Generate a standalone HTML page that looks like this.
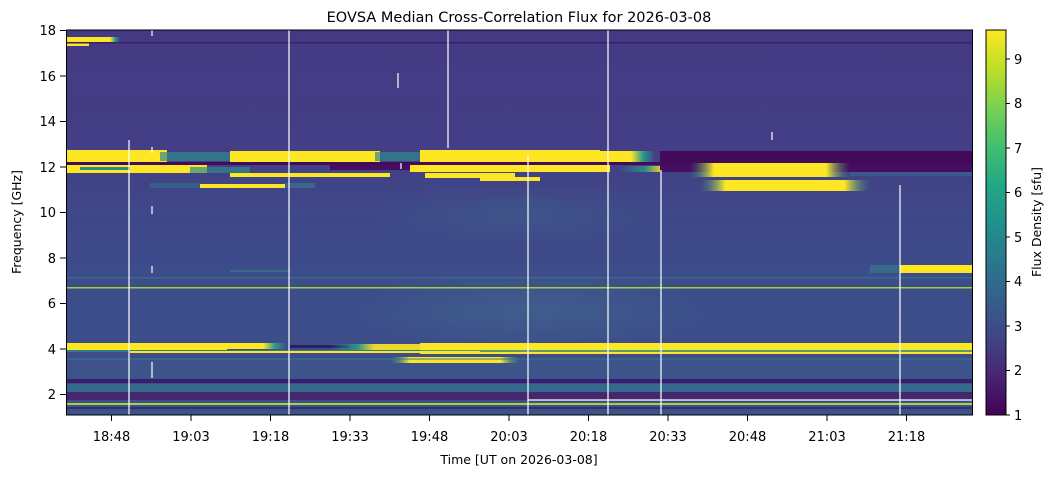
<!DOCTYPE html>
<html><head><meta charset="utf-8"><style>
body{margin:0;background:#fff;}
svg{display:block;font-family:"DejaVu Sans","Liberation Sans",sans-serif;}
</style></head><body>
<svg width="1053" height="477" viewBox="0 0 1053 477">
<defs>
<linearGradient id="cb" x1="0" y1="1" x2="0" y2="0">
<stop offset="0" stop-color="#440154"/><stop offset="0.1" stop-color="#482475"/>
<stop offset="0.2" stop-color="#414487"/><stop offset="0.3" stop-color="#355f8d"/>
<stop offset="0.4" stop-color="#2a788e"/><stop offset="0.5" stop-color="#21918c"/>
<stop offset="0.6" stop-color="#22a884"/><stop offset="0.7" stop-color="#44bf70"/>
<stop offset="0.8" stop-color="#7ad151"/><stop offset="0.9" stop-color="#bddf26"/>
<stop offset="1" stop-color="#fde725"/></linearGradient>
<linearGradient id="bg" x1="0" y1="0" x2="0" y2="1">
<stop offset="0" stop-color="#443a83"/><stop offset="0.3" stop-color="#433e85"/>
<stop offset="0.45" stop-color="#3f4788"/><stop offset="0.75" stop-color="#3c4f8b"/>
<stop offset="0.85" stop-color="#3e4c8a"/><stop offset="1" stop-color="#3b528b"/></linearGradient>
<radialGradient id="haze"><stop offset="0" stop-color="#40708c" stop-opacity="0.45"/><stop offset="1" stop-color="#40708c" stop-opacity="0"/></radialGradient>
<linearGradient id="fadeR" x1="0" x2="1"><stop offset="0" stop-color="#fde725"/><stop offset="0.6" stop-color="#fde725"/><stop offset="0.8" stop-color="#2a9a8a"/><stop offset="1" stop-color="#2a9a8a" stop-opacity="0"/></linearGradient>
<linearGradient id="fadeL" x1="0" x2="1"><stop offset="0" stop-color="#2a9a8a" stop-opacity="0"/><stop offset="0.25" stop-color="#2a9a8a"/><stop offset="0.4" stop-color="#fde725"/><stop offset="1" stop-color="#fde725"/></linearGradient>
<linearGradient id="blob" x1="0" x2="1"><stop offset="0" stop-color="#2a9a8a" stop-opacity="0"/><stop offset="0.15" stop-color="#fde725"/><stop offset="0.85" stop-color="#fde725"/><stop offset="1" stop-color="#2a9a8a" stop-opacity="0"/></linearGradient>
</defs>
<rect x="67" y="30" width="905" height="385" fill="url(#bg)"/>
<!-- haze -->
<ellipse cx="530" cy="310" rx="180" ry="40" fill="url(#haze)"/>
<ellipse cx="520" cy="215" rx="150" ry="30" fill="url(#haze)" opacity="0.7"/>
<rect x="67" y="360" width="905" height="20" fill="#3d5a8c" opacity="0.5"/>
<!-- top-left -->
<rect x="67" y="37" width="28" height="5" fill="#fde725"/><rect x="95" y="37" width="25" height="5" fill="url(#fadeR)"/>
<rect x="67" y="43" width="22" height="3" fill="#fde725"/>
<rect x="67" y="42" width="905" height="1.5" fill="#3a1f6a"/>
<!-- 12 GHz bands -->
<rect x="67" y="150" width="100" height="12" fill="#fde725"/>
<rect x="160" y="152" width="80" height="9" fill="#2f8a8c" opacity="0.7"/>
<rect x="230" y="151" width="150" height="11" fill="#fde725"/>
<rect x="375" y="152" width="50" height="9" fill="#2f8a8c" opacity="0.7"/>
<rect x="420" y="150" width="180" height="12" fill="#fde725"/>
<rect x="595" y="151" width="60" height="11" fill="url(#fadeR)"/>
<rect x="660" y="151" width="312" height="11" fill="#430a5c"/>
<rect x="67" y="162" width="905" height="3" fill="#440b5c"/>
<rect x="67" y="165" width="140" height="8" fill="#fde725"/>
<rect x="80" y="167" width="50" height="3" fill="#2f8a8c"/>
<rect x="190" y="167" width="60" height="6" fill="#2f8a8c" opacity="0.7"/>
<rect x="230" y="173" width="160" height="4" fill="#fde725"/>
<rect x="330" y="165" width="100" height="5" fill="#460d60"/>
<rect x="410" y="165" width="200" height="7" fill="#fde725"/>
<rect x="425" y="173" width="90" height="5" fill="#fde725"/>
<rect x="480" y="177" width="60" height="4" fill="#fde725"/>
<rect x="620" y="166" width="100" height="6" fill="url(#fadeL)" opacity="0.8"/>
<rect x="660" y="165" width="312" height="7" fill="#450e60"/>
<rect x="690" y="163" width="160" height="14" fill="url(#blob)"/>
<rect x="700" y="180" width="170" height="11" fill="url(#blob)"/>
<rect x="850" y="172" width="122" height="4" fill="#3a5a8c"/>
<rect x="200" y="184" width="85" height="4" fill="#fde725"/>
<rect x="150" y="183" width="50" height="5" fill="#2f8a8c" opacity="0.4"/>
<rect x="285" y="183" width="30" height="5" fill="#2f8a8c" opacity="0.5"/>
<!-- 7 GHz -->
<rect x="230" y="270" width="60" height="2" fill="#3f6a8c"/>
<rect x="900" y="265" width="72" height="8" fill="#fde725"/>
<rect x="870" y="265" width="30" height="8" fill="#2f8a8c" opacity="0.5"/>
<rect x="67" y="277" width="905" height="1.5" fill="#2c8c8a" opacity="0.5"/>
<rect x="67" y="287" width="905" height="1.5" fill="#a0d040"/>
<!-- 4 GHz -->
<rect x="67" y="343" width="160" height="7" fill="#fde725"/>
<rect x="227" y="343" width="60" height="6" fill="url(#fadeR)"/>
<rect x="290" y="345" width="60" height="3" fill="#2c1a6a"/>
<rect x="330" y="344" width="110" height="6" fill="url(#fadeL)" opacity="0.9"/>
<rect x="420" y="343" width="552" height="11" fill="#fde725"/>
<rect x="67" y="350" width="905" height="2" fill="#2a8a8a" opacity="0.8"/>
<rect x="130" y="351" width="350" height="2" fill="#fde725"/>
<rect x="390" y="357" width="130" height="6" fill="url(#blob)"/>
<rect x="67" y="358" width="905" height="2" fill="#3a7a8a" opacity="0.5"/>
<rect x="67" y="379" width="905" height="4" fill="#3a1d6c"/>
<rect x="67" y="384" width="905" height="8" fill="#366a8c"/>
<rect x="67" y="392" width="905" height="8" fill="#45276f"/>
<rect x="67" y="403" width="905" height="2" fill="#a8d23a"/>
<rect x="67" y="407" width="905" height="2" fill="#3a2a70"/>
<!-- white lines -->
<g stroke="#fff" stroke-width="1.2">
<line x1="129" y1="140" x2="129" y2="415"/><line x1="289" y1="30" x2="289" y2="415"/>
<line x1="448" y1="30" x2="448" y2="148"/><line x1="528" y1="155" x2="528" y2="415"/>
<line x1="608" y1="30" x2="608" y2="415"/><line x1="661" y1="170" x2="661" y2="415"/>
<line x1="900" y1="185" x2="900" y2="415"/>
<line x1="152" y1="30" x2="152" y2="36"/><line x1="152" y1="147" x2="152" y2="153"/>
<line x1="152" y1="206" x2="152" y2="214"/><line x1="152" y1="266" x2="152" y2="273"/>
<line x1="152" y1="362" x2="152" y2="378"/><line x1="398" y1="73" x2="398" y2="88"/>
<line x1="401" y1="163" x2="401" y2="169"/><line x1="772" y1="132" x2="772" y2="140"/>
<line x1="528" y1="400" x2="972" y2="400"/>
</g>
<rect x="66.5" y="30" width="906" height="385" fill="none" stroke="#000" stroke-width="1"/>
<!-- y axis -->
<g stroke="#000" stroke-width="1">
<line x1="60" y1="30.5" x2="66" y2="30.5"/><line x1="60" y1="76" x2="66" y2="76"/>
<line x1="60" y1="121.5" x2="66" y2="121.5"/><line x1="60" y1="167" x2="66" y2="167"/>
<line x1="60" y1="212.5" x2="66" y2="212.5"/><line x1="60" y1="258" x2="66" y2="258"/>
<line x1="60" y1="303.5" x2="66" y2="303.5"/><line x1="60" y1="349" x2="66" y2="349"/>
<line x1="60" y1="394.5" x2="66" y2="394.5"/>
</g>
<g font-size="13" text-anchor="end" fill="#000">
<text x="56" y="35">18</text><text x="56" y="81">16</text><text x="56" y="126">14</text>
<text x="56" y="172">12</text><text x="56" y="217">10</text><text x="56" y="263">8</text>
<text x="56" y="308">6</text><text x="56" y="354">4</text><text x="56" y="399">2</text>
</g>
<text transform="translate(21,222) rotate(-90)" font-size="12.5" text-anchor="middle">Frequency [GHz]</text>
<!-- x axis -->
<g stroke="#000" stroke-width="1">
<line x1="111.5" y1="415" x2="111.5" y2="421"/><line x1="191" y1="415" x2="191" y2="421"/>
<line x1="270.5" y1="415" x2="270.5" y2="421"/><line x1="350" y1="415" x2="350" y2="421"/>
<line x1="429.5" y1="415" x2="429.5" y2="421"/><line x1="509" y1="415" x2="509" y2="421"/>
<line x1="588.5" y1="415" x2="588.5" y2="421"/><line x1="668" y1="415" x2="668" y2="421"/>
<line x1="747.5" y1="415" x2="747.5" y2="421"/><line x1="827" y1="415" x2="827" y2="421"/>
<line x1="906.5" y1="415" x2="906.5" y2="421"/>
</g>
<g font-size="13" text-anchor="middle">
<text x="111.5" y="441">18:48</text><text x="191" y="441">19:03</text><text x="270.5" y="441">19:18</text>
<text x="350" y="441">19:33</text><text x="429.5" y="441">19:48</text><text x="509" y="441">20:03</text>
<text x="588.5" y="441">20:18</text><text x="668" y="441">20:33</text><text x="747.5" y="441">20:48</text>
<text x="827" y="441">21:03</text><text x="906.5" y="441">21:18</text>
</g>
<text x="519" y="464" font-size="12.5" text-anchor="middle">Time [UT on 2026-03-08]</text>
<text x="519" y="22" font-size="14.5" text-anchor="middle">EOVSA Median Cross-Correlation Flux for 2026-03-08</text>
<!-- colorbar -->
<rect x="986" y="30" width="20" height="385" fill="url(#cb)" stroke="#000" stroke-width="1"/>
<g stroke="#000" stroke-width="1">
<line x1="1006" y1="415" x2="1010" y2="415"/><line x1="1006" y1="370.5" x2="1010" y2="370.5"/>
<line x1="1006" y1="326" x2="1010" y2="326"/><line x1="1006" y1="281.5" x2="1010" y2="281.5"/>
<line x1="1006" y1="237" x2="1010" y2="237"/><line x1="1006" y1="192.5" x2="1010" y2="192.5"/>
<line x1="1006" y1="148" x2="1010" y2="148"/><line x1="1006" y1="103.5" x2="1010" y2="103.5"/>
<line x1="1006" y1="59" x2="1010" y2="59"/>
</g>
<g font-size="13">
<text x="1014" y="420">1</text><text x="1014" y="375">2</text><text x="1014" y="331">3</text>
<text x="1014" y="286">4</text><text x="1014" y="242">5</text><text x="1014" y="197">6</text>
<text x="1014" y="153">7</text><text x="1014" y="108">8</text><text x="1014" y="64">9</text>
</g>
<text transform="translate(1041,222) rotate(-90)" font-size="12.5" text-anchor="middle">Flux Density [sfu]</text>
</svg>
</body></html>
